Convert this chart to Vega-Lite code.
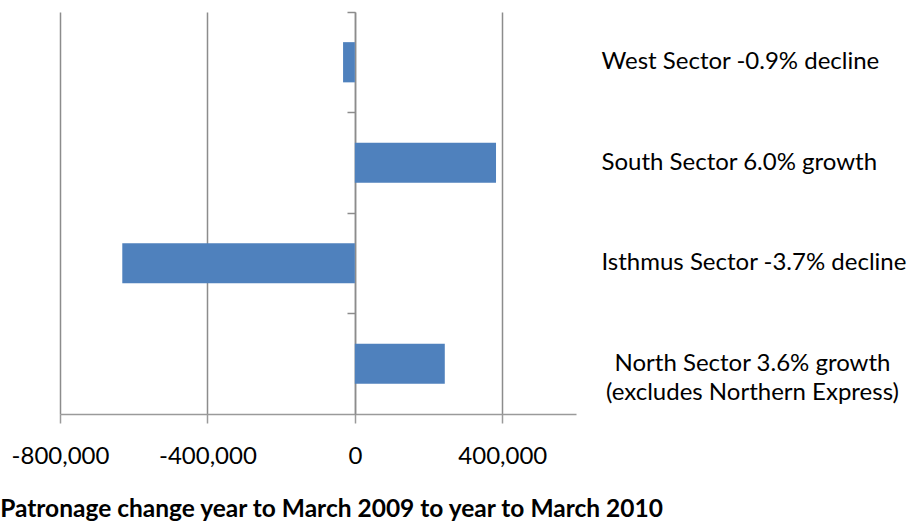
{
  "$schema": "https://vega.github.io/schema/vega-lite/v6.json",
  "width": 516,
  "height": 402,
  "autosize": "none",
  "padding": {"left": 60, "top": 12, "right": 340, "bottom": 108},
  "background": "white",
  "config": {"view": {"stroke": null}, "font": "Lato"},
  "data": {"values": [
    {"sector": "West Sector -0.9% decline", "change": -32000},
    {"sector": "South Sector 6.0% growth", "change": 383000},
    {"sector": "Isthmus Sector -3.7% decline", "change": -631000},
    {"sector": "North Sector 3.6% growth (excludes Northern Express)", "change": 244000}
  ]},
  "resolve": {"axis": {"y": "independent"}},
  "layer": [
    {
      "mark": {"type": "bar", "color": "#4F81BD"},
      "encoding": {
        "x": {
          "field": "change", "type": "quantitative",
          "scale": {"domain": [-800000, 600000], "nice": false, "zero": false},
          "axis": {
            "values": [-800000, -400000, 0, 400000],
            "format": ",d",
            "labelExpr": "replace(datum.label, '\u2212', '-')",
            "grid": true, "gridColor": "#8c8c8c", "gridWidth": 1.5,
            "domainColor": "#9a9a9a", "domainWidth": 1.5,
            "tickColor": "#9a9a9a", "tickWidth": 1.5, "tickSize": 9,
            "labelFont": "Lato", "labelFontSize": 24, "labelColor": "#000000",
            "labelPadding": 21, "labelFlush": false,
            "title": "Patronage change year to March 2009 to year to March 2010",
            "titleFont": "Lato", "titleFontSize": 24.5, "titleFontWeight": "bold", "titleColor": "#000000",
            "titleBaseline": "alphabetic", "titleX": 271, "titleY": 102, "titleAnchor": "middle"
          }
        },
        "y": {
          "field": "sector", "type": "nominal", "sort": null,
          "scale": {"paddingInner": 0.6, "paddingOuter": 0.3},
          "axis": {
            "orient": "left", "offset": -295, "labels": false, "title": null,
            "domainColor": "#8c8c8c", "domainWidth": 1.5,
            "ticks": true, "tickColor": "#8c8c8c", "tickWidth": 1.5, "tickSize": 8,
            "bandPosition": -0.75, "grid": false
          }
        }
      }
    },
    {
      "mark": {"type": "text", "text": ""},
      "encoding": {
        "y": {
          "field": "sector", "type": "nominal", "sort": null,
          "axis": {
            "orient": "right", "title": null, "domain": false, "ticks": false, "grid": false,
            "labelFont": "Lato", "labelFontSize": 24, "labelColor": "#000000", "labelLimit": 500,
            "labelLineHeight": 29,
            "labelExpr": "indexof(datum.label, ' (') > 0 ? [substring(datum.label, 0, indexof(datum.label, ' (')), substring(datum.label, indexof(datum.label, ' (') + 1)] : datum.label",
            "labelAlign": {"condition": {"test": "indexof(datum.value, '(') > 0", "value": "center"}, "value": "left"},
            "labelPadding": {"condition": {"test": "indexof(datum.value, '(') > 0", "value": 176}, "value": 25}
          }
        }
      }
    }
  ]
}
